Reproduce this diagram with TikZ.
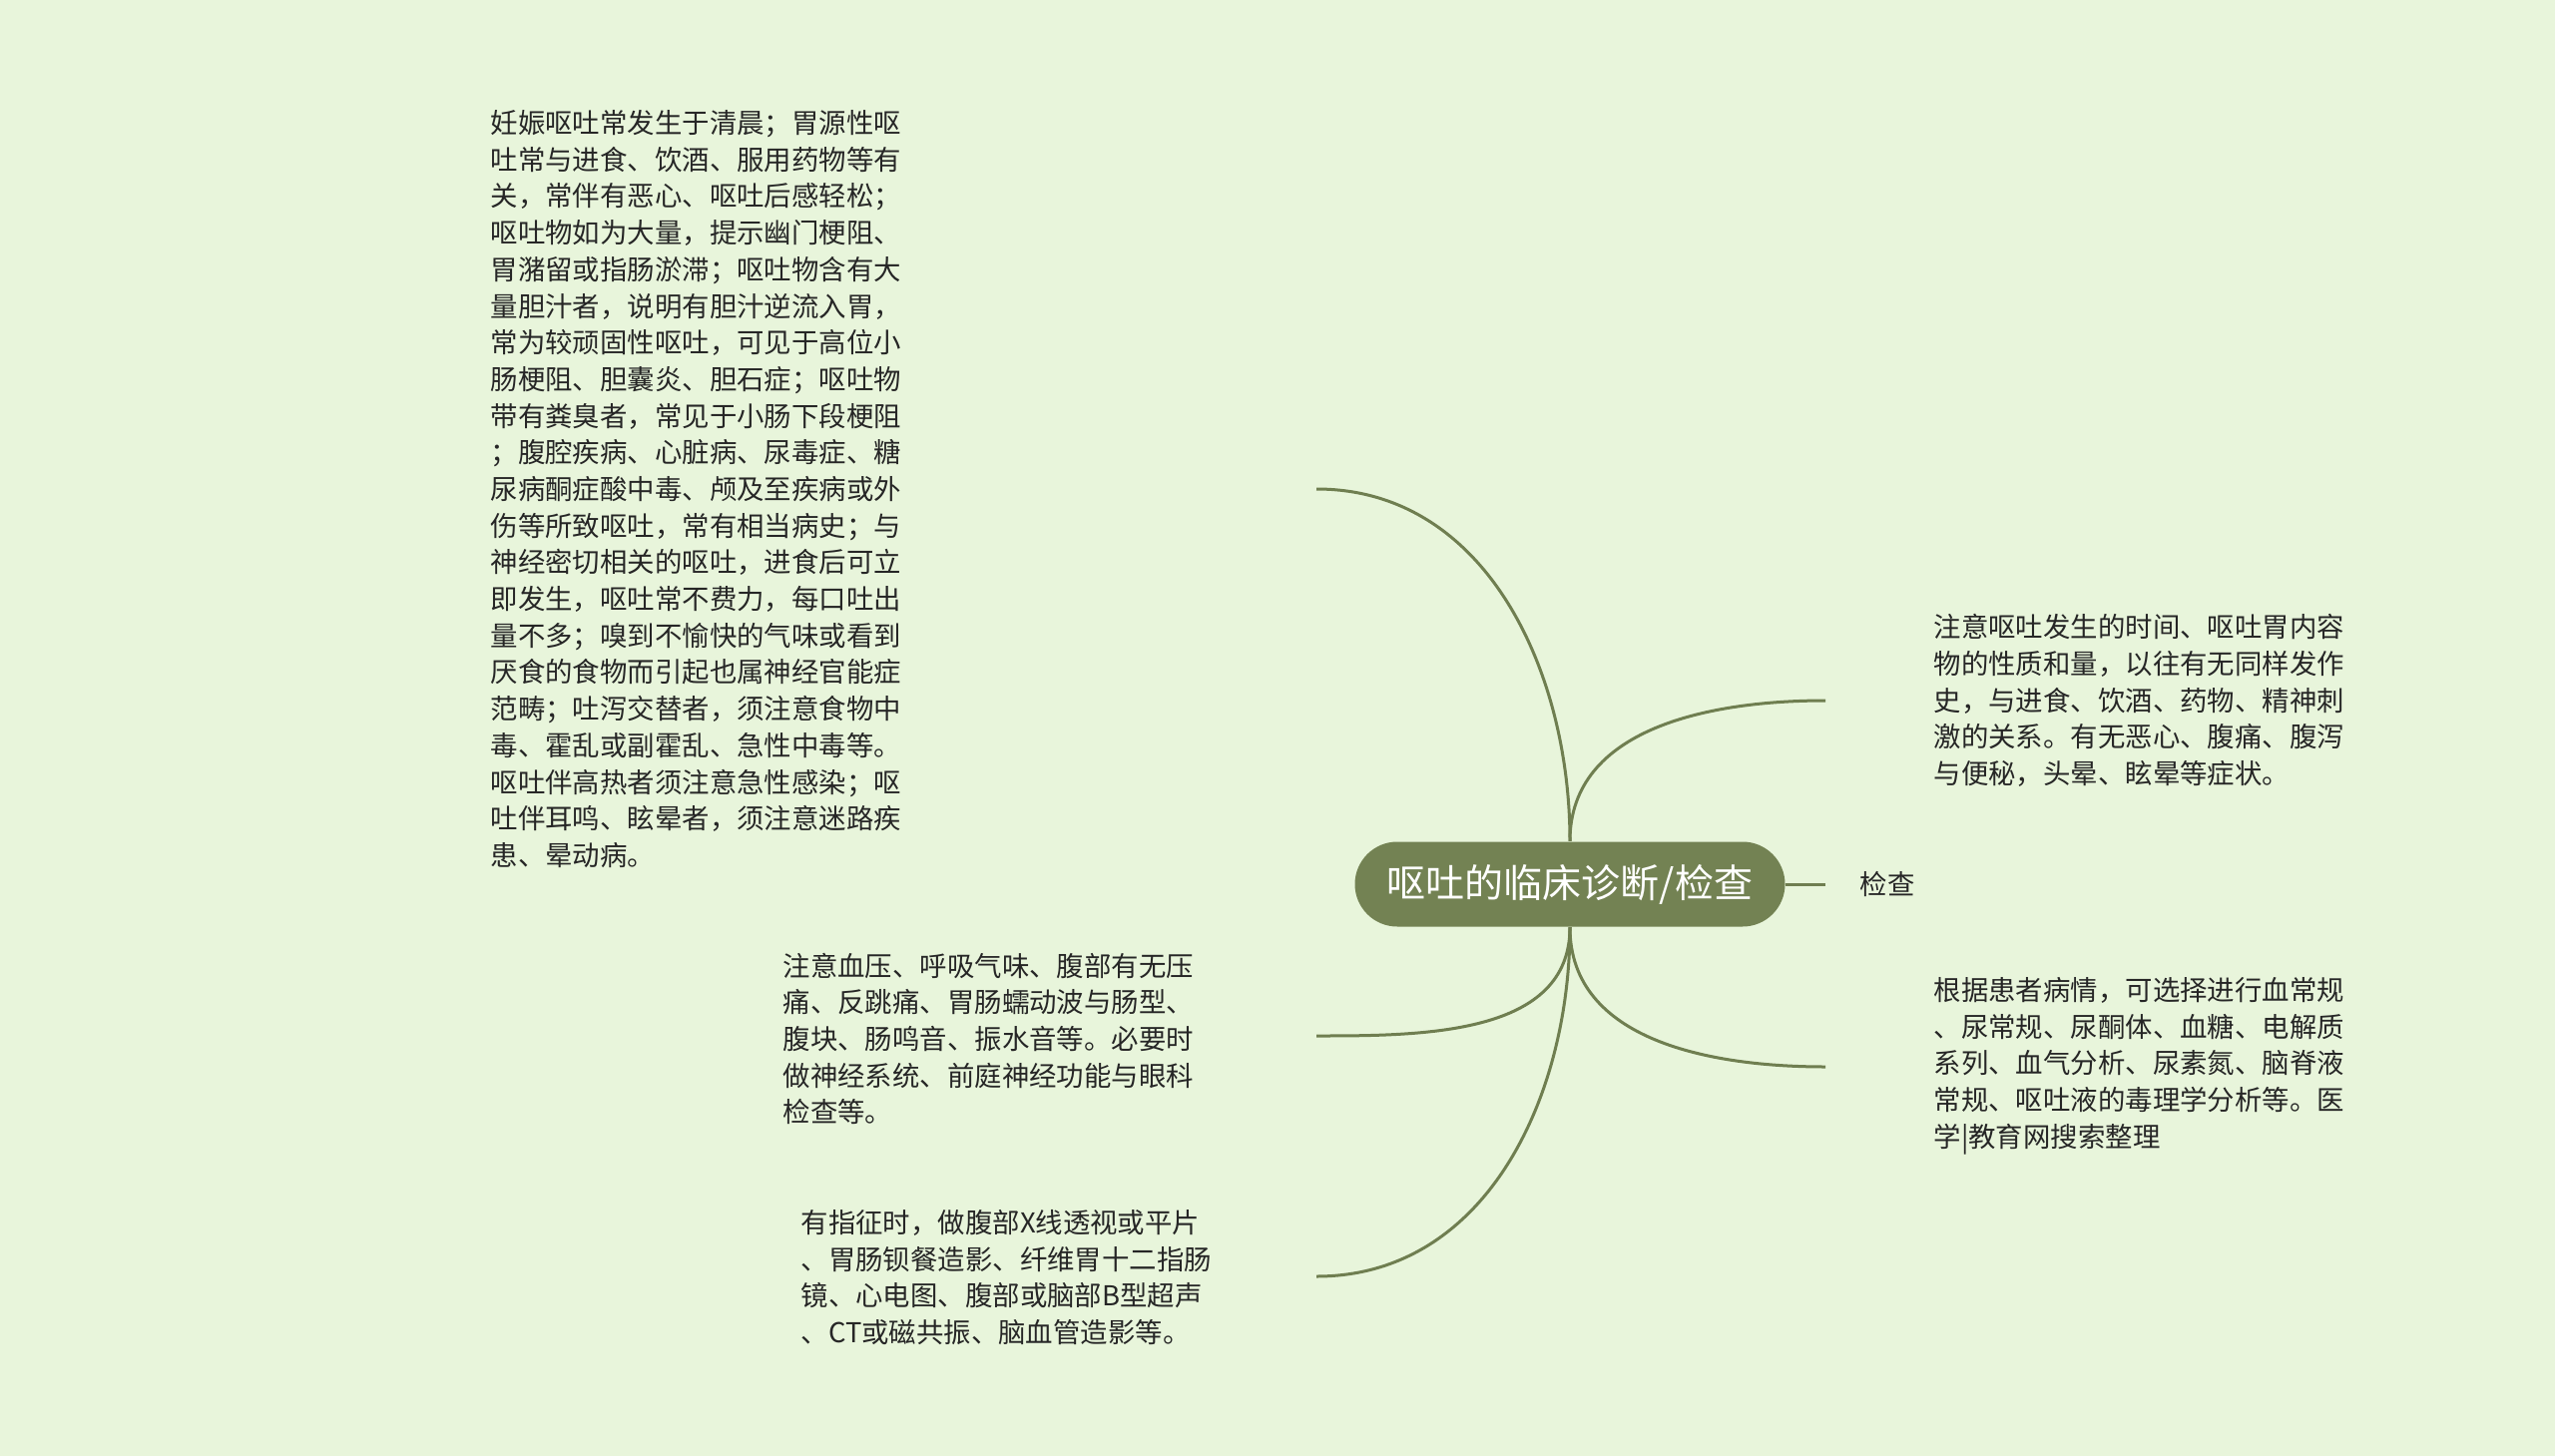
\documentclass[tikz,border=0pt]{standalone}
\usepackage{fontspec}
\setmainfont{Noto Sans CJK SC}
\usetikzlibrary{positioning,calc}
\definecolor{bgmint}{HTML}{E8F5DB}
\definecolor{rootgreen}{HTML}{738253}
\definecolor{twig}{HTML}{6F7E50}

\begin{document}
\begin{tikzpicture}[x=0.1mm,y=-0.1mm]
  \tikzset{
    root/.style={fill=rootgreen, text=white, rounded corners=4.25mm, minimum width=43.1mm,
      minimum height=8.5mm, inner sep=0pt, font=\fontsize{11.1}{13}\selectfont},
    leaf/.style={align=left, inner sep=0pt, text=black!85, font=\fontsize{7.8}{10.44}\selectfont},
    tag/.style={inner xsep=3.4mm, inner ysep=0pt, text=black!85, font=\fontsize{7.8}{10.44}\selectfont},
    branch/.style={draw=twig, line width=0.3mm}
  }
  \fill[bgmint] (0,0) rectangle (2560,1459);
  \useasboundingbox (0,0) rectangle (2560,1459);
  \node[root] (root) at (1573,886) {呕吐的临床诊断/检查};
  \node[tag, right=4mm of root] (jc) {检查};
  \node[leaf, anchor=west] (preg) at (491,490) {妊娠呕吐常发生于清晨；胃源性呕\\吐常与进食、饮酒、服用药物等有\\关，常伴有恶心、呕吐后感轻松；\\呕吐物如为大量，提示幽门梗阻、\\胃潴留或指肠淤滞；呕吐物含有大\\量胆汁者，说明有胆汁逆流入胃，\\常为较顽固性呕吐，可见于高位小\\肠梗阻、胆囊炎、胆石症；呕吐物\\带有粪臭者，常见于小肠下段梗阻\\；腹腔疾病、心脏病、尿毒症、糖\\尿病酮症酸中毒、颅及至疾病或外\\伤等所致呕吐，常有相当病史；与\\神经密切相关的呕吐，进食后可立\\即发生，呕吐常不费力，每口吐出\\量不多；嗅到不愉快的气味或看到\\厌食的食物而引起也属神经官能症\\范畴；吐泻交替者，须注意食物中\\毒、霍乱或副霍乱、急性中毒等。\\呕吐伴高热者须注意急性感染；呕\\吐伴耳鸣、眩晕者，须注意迷路疾\\患、晕动病。};
  \node[leaf, anchor=west] (body) at (784,1041) {注意血压、呼吸气味、腹部有无压\\痛、反跳痛、胃肠蠕动波与肠型、\\腹块、肠鸣音、振水音等。必要时\\做神经系统、前庭神经功能与眼科\\检查等。};
  \node[leaf, anchor=west] (aux) at (802,1280) {有指征时，做腹部X线透视或平片\\、胃肠钡餐造影、纤维胃十二指肠\\镜、心电图、腹部或脑部B型超声\\、CT或磁共振、脑血管造影等。};
  \node[leaf, anchor=west] (hist) at (1937,702) {注意呕吐发生的时间、呕吐胃内容\\物的性质和量，以往有无同样发作\\史，与进食、饮酒、药物、精神刺\\激的关系。有无恶心、腹痛、腹泻\\与便秘，头晕、眩晕等症状。};
  \node[leaf, anchor=west] (lab) at (1937,1068) {根据患者病情，可选择进行血常规\\、尿常规、尿酮体、血糖、电解质\\系列、血气分析、尿素氮、脑脊液\\常规、呕吐液的毒理学分析等。医\\学|教育网搜索整理};
  % ends of the branches
  \coordinate (preg-in) at (1319,490);
  \coordinate (body-in) at (1319,1038);
  \coordinate (aux-in) at (1319,1279);
  \coordinate (hist-in) at (1829,702);
  \coordinate (lab-in) at (1829,1069);
  \draw[branch] (root.north) .. controls ($(root.north)+(0,-170)$) and ($(preg-in)+(170,0)$) .. (preg-in);
  \draw[branch] (root.north) .. controls ($(root.north)+(0,-114)$) and ($(hist-in)+(-114,0)$) .. (hist-in);
  \draw[branch] (root.south) .. controls ($(root.south)+(0,108)$) and ($(body-in)+(108,0)$) .. (body-in);
  \draw[branch] (root.south) .. controls ($(root.south)+(0,170)$) and ($(aux-in)+(170,0)$) .. (aux-in);
  \draw[branch] (root.south) .. controls ($(root.south)+(0,114)$) and ($(lab-in)+(-114,0)$) .. (lab-in);
  \draw[branch] (root.east) -- (jc.west);
\end{tikzpicture}
\end{document}
